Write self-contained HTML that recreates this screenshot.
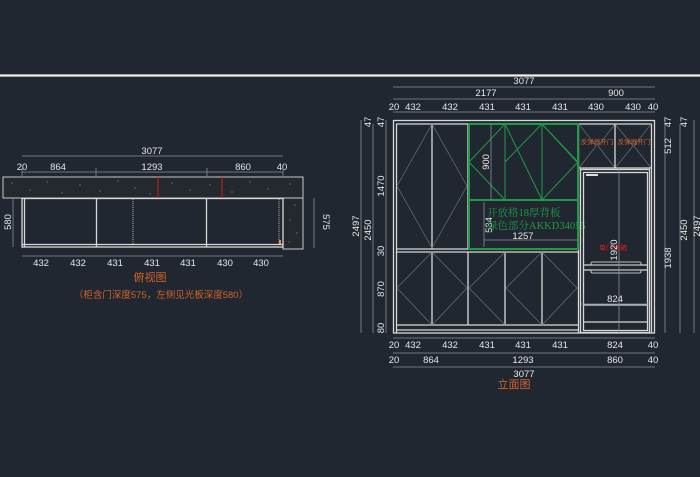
<!DOCTYPE html>
<html><head><meta charset="utf-8"><style>
html,body{margin:0;padding:0;background:#212730;}
svg{display:block;}
text{font-family:"Liberation Sans","Noto Sans CJK SC",sans-serif;font-size:9.5px;fill:#e6e6e6;}
.d{stroke:#8a8f96;stroke-width:0.8;fill:none;}
.w{stroke:#d8d8d8;stroke-width:1.3;fill:none;}
.g{stroke:#1f9a45;stroke-width:2;fill:none;}
.gt{stroke:#1f9a45;stroke-width:1;fill:none;}
.x{stroke:#6b7078;stroke-width:0.7;fill:none;}
</style></head><body>
<svg width="700" height="477" viewBox="0 0 700 477" xmlns="http://www.w3.org/2000/svg">
<rect width="700" height="477" fill="#212730"/>
<line x1="0" y1="75.5" x2="700" y2="75.5" stroke="#f0f0f0" stroke-width="2.2"/>

<!-- ============ PLAN VIEW ============ -->
<line class="d" x1="22" y1="156" x2="283" y2="156"/>
<text x="152" y="154" text-anchor="middle">3077</text>
<line class="d" x1="22" y1="172" x2="283" y2="172"/>
<g text-anchor="middle"><text x="22" y="170">20</text><text x="58" y="170">864</text><text x="152" y="170">1293</text><text x="243" y="170">860</text><text x="282" y="170">40</text></g>
<g class="d"><line x1="22" y1="168" x2="22" y2="176"/><line x1="96" y1="168" x2="96" y2="176"/><line x1="207" y1="168" x2="207" y2="176"/><line x1="283" y1="168" x2="283" y2="176"/></g>
<!-- band -->
<rect x="3" y="177" width="300" height="21" fill="#23292f" stroke="#c8c8c8" stroke-width="1"/>
<rect x="283" y="198" width="20" height="51" fill="#23292f" stroke="#c8c8c8" stroke-width="1"/>
<g fill="#8a8f96">
<circle cx="12" cy="183" r=".6"/><circle cx="30" cy="190" r=".6"/><circle cx="47" cy="182" r=".6"/><circle cx="62" cy="193" r=".6"/><circle cx="80" cy="185" r=".6"/><circle cx="100" cy="191" r=".6"/><circle cx="118" cy="181" r=".6"/><circle cx="135" cy="188" r=".6"/><circle cx="150" cy="194" r=".6"/><circle cx="172" cy="183" r=".6"/><circle cx="190" cy="190" r=".6"/><circle cx="210" cy="185" r=".6"/><circle cx="232" cy="192" r=".6"/><circle cx="250" cy="182" r=".6"/><circle cx="268" cy="189" r=".6"/><circle cx="290" cy="184" r=".6"/><circle cx="295" cy="205" r=".6"/><circle cx="290" cy="220" r=".6"/><circle cx="297" cy="233" r=".6"/><circle cx="289" cy="242" r=".6"/>
</g>
<line x1="158" y1="177" x2="158" y2="198" stroke="#b02020" stroke-width="1.2"/>
<line x1="222" y1="177" x2="222" y2="198" stroke="#b02020" stroke-width="1.2"/>
<!-- body -->
<rect x="22" y="198.5" width="261" height="48.5" class="w"/>
<line class="w" x1="24.5" y1="199" x2="24.5" y2="247"/>
<line class="w" x1="22" y1="244.5" x2="283" y2="244.5"/>
<line class="w" x1="96.5" y1="199" x2="96.5" y2="247"/>
<line class="w" x1="206.5" y1="199" x2="206.5" y2="247"/>
<line x1="133" y1="199" x2="133" y2="245" stroke="#999" stroke-width="1.2" stroke-dasharray="1,1"/>
<line x1="279" y1="199" x2="279" y2="245" stroke="#999" stroke-width="1.2" stroke-dasharray="1,1"/>
<rect x="279" y="240" width="2" height="4" fill="#e89050"/>
<line class="d" x1="13" y1="198" x2="13" y2="247"/>
<text transform="translate(11,222) rotate(-90)" text-anchor="middle">580</text>
<line class="d" x1="314" y1="198" x2="314" y2="248"/>
<text transform="translate(323,222) rotate(90)" text-anchor="middle">575</text>
<line class="d" x1="22" y1="256" x2="283" y2="256"/>
<g text-anchor="middle"><text x="41" y="266">432</text><text x="78" y="266">432</text><text x="115" y="266">431</text><text x="152" y="266">431</text><text x="188" y="266">431</text><text x="225" y="266">430</text><text x="261" y="266">430</text></g>
<text x="150" y="281" text-anchor="middle" style="fill:#d2632a;font-size:11px">俯视图</text>
<text x="161" y="298" text-anchor="middle" style="fill:#d2632a;font-size:9.5px">（柜含门深度575，左侧见光板深度580）</text>

<!-- ============ ELEVATION ============ -->
<line class="d" x1="393" y1="87" x2="655" y2="87"/>
<text x="524" y="84" text-anchor="middle">3077</text>
<line class="d" x1="393" y1="99" x2="655" y2="99"/>
<text x="486" y="96" text-anchor="middle">2177</text><text x="616" y="96" text-anchor="middle">900</text>
<line class="d" x1="393" y1="112" x2="655" y2="112"/>
<g text-anchor="middle"><text x="394" y="110">20</text><text x="413" y="110">432</text><text x="450" y="110">432</text><text x="487" y="110">431</text><text x="523" y="110">431</text><text x="560" y="110">431</text><text x="596" y="110">430</text><text x="633" y="110">430</text><text x="653" y="110">40</text></g>
<!-- outer -->
<rect x="393.5" y="120.5" width="261" height="212.5" class="w"/>
<line class="w" x1="396.5" y1="124" x2="396.5" y2="333"/>
<line class="w" x1="651.5" y1="124" x2="651.5" y2="333"/>
<line class="w" x1="396" y1="124" x2="652" y2="124"/>
<line class="w" x1="396" y1="249" x2="578" y2="249"/>
<line class="w" x1="396" y1="252" x2="578" y2="252"/>
<line class="w" x1="396" y1="325" x2="578" y2="325"/>
<line class="w" x1="396" y1="330" x2="578" y2="330"/>
<line class="w" x1="432" y1="124" x2="432" y2="249"/>
<line class="w" x1="468" y1="124" x2="468" y2="249"/>
<line class="w" x1="578.5" y1="124" x2="578.5" y2="333"/>
<g class="w"><line x1="432" y1="252" x2="432" y2="325"/><line x1="468" y1="252" x2="468" y2="325"/><line x1="505" y1="252" x2="505" y2="325"/><line x1="542" y1="252" x2="542" y2="325"/></g>
<!-- door diagonals -->
<g class="x">
<polyline points="432,124 397,186 432,248"/><polyline points="432,124 467,186 432,248"/>
<polyline points="432,252 397,288 432,325"/><polyline points="432,252 467,288 432,325"/>
<polyline points="505,252 469,288 505,325"/><polyline points="542,252 506,288 542,325"/><polyline points="542,252 577,288 542,325"/>
<polyline points="579,124 596,146 579,168"/><polyline points="615,124 598,146 615,168"/>
<polyline points="615,124 633,146 615,168"/><polyline points="651,124 634,146 651,168"/>
</g>
<!-- green -->
<rect x="469" y="124" width="109" height="125" class="g"/>
<line class="g" x1="469" y1="200" x2="578" y2="200"/>
<g class="gt">
<line x1="505" y1="124" x2="505" y2="200"/><line x1="542" y1="124" x2="542" y2="200"/>
<polyline points="505,124 469,162 505,200"/><polyline points="505,124 542,200"/><polyline points="542,124 505,162"/>
<polyline points="542,124 578,162 542,200"/><polyline points="542,124 577,162"/>
</g>
<line class="d" x1="491" y1="124" x2="491" y2="200"/>
<text transform="translate(489,162) rotate(-90)" text-anchor="middle">900</text>
<line class="d" x1="484" y1="202" x2="484" y2="247"/>
<text transform="translate(492,225) rotate(-90)" text-anchor="middle">534</text>
<text x="487" y="216" style="fill:#1f9a45;font-size:10.5px;font-family:'Liberation Serif','Noto Serif CJK SC',serif">开放格18厚背板</text>
<text x="487" y="229" style="fill:#1f9a45;font-size:10.5px;font-family:'Liberation Serif','Noto Serif CJK SC',serif">绿色部分AKKD34055</text>
<line class="d" x1="484" y1="240" x2="578" y2="240"/>
<text x="523" y="239" text-anchor="middle">1257</text>
<!-- right upper -->
<line class="w" x1="615" y1="124" x2="615" y2="168"/>
<line class="w" x1="579" y1="168" x2="651" y2="168"/>
<text x="597" y="144" text-anchor="middle" style="fill:#d2632a;font-size:6.5px">反弹器开门</text>
<text x="634" y="144" text-anchor="middle" style="fill:#d2632a;font-size:6.5px">反弹器开门</text>
<!-- fridge -->
<rect x="580.5" y="169.5" width="69" height="163" class="w"/>
<rect x="583.5" y="172.5" width="64" height="158" class="w" stroke-width="0.9"/>
<rect x="586" y="174" width="12" height="2" fill="#ddd"/>
<line class="w" x1="583" y1="265" x2="648" y2="265"/>
<line class="w" x1="583" y1="270" x2="648" y2="270"/>
<rect x="591" y="262" width="50" height="3" rx="1.5" fill="none" stroke="#bbb"/>
<rect x="591" y="270" width="50" height="3" rx="1.5" fill="none" stroke="#bbb"/>
<line class="w" x1="583" y1="305" x2="648" y2="305"/>
<line class="w" x1="583" y1="322" x2="648" y2="322"/>
<line class="d" x1="619" y1="169" x2="619" y2="333"/>
<text x="613" y="250" text-anchor="middle" style="fill:#d42020;font-size:7px">单门冰箱</text>
<text transform="translate(617,250) rotate(-90)" text-anchor="middle">1920</text>
<line class="d" x1="581" y1="304" x2="649" y2="304"/>
<text x="615" y="302" text-anchor="middle">824</text>
<!-- left dims -->
<g class="d"><line x1="361" y1="120" x2="361" y2="333"/><line x1="373" y1="124" x2="373" y2="333"/><line x1="386" y1="120" x2="386" y2="333"/></g>
<text transform="translate(359,226) rotate(-90)" text-anchor="middle">2497</text>
<text transform="translate(371,230) rotate(-90)" text-anchor="middle">2450</text>
<g>
<text transform="translate(371,122) rotate(-90)" text-anchor="middle">47</text>
<text transform="translate(384,122) rotate(-90)" text-anchor="middle">47</text>
<text transform="translate(384,186) rotate(-90)" text-anchor="middle">1470</text>
<text transform="translate(384,251) rotate(-90)" text-anchor="middle">30</text>
<text transform="translate(384,289) rotate(-90)" text-anchor="middle">870</text>
<text transform="translate(384,328) rotate(-90)" text-anchor="middle">80</text>
</g>
<!-- right dims -->
<g class="d"><line x1="665" y1="120" x2="665" y2="333"/><line x1="680" y1="124" x2="680" y2="333"/><line x1="694" y1="120" x2="694" y2="333"/></g>
<text transform="translate(671,122) rotate(-90)" text-anchor="middle">47</text>
<text transform="translate(687,122) rotate(-90)" text-anchor="middle">47</text>
<text transform="translate(671,146) rotate(-90)" text-anchor="middle">512</text>
<text transform="translate(671,258) rotate(-90)" text-anchor="middle">1938</text>
<text transform="translate(687,230) rotate(-90)" text-anchor="middle">2450</text>
<text transform="translate(700,226) rotate(-90)" text-anchor="middle">2497</text>
<!-- bottom dims -->
<line class="d" x1="393" y1="338" x2="655" y2="338"/>
<g text-anchor="middle"><text x="394" y="348">20</text><text x="413" y="348">432</text><text x="450" y="348">432</text><text x="487" y="348">431</text><text x="523" y="348">431</text><text x="560" y="348">431</text><text x="615" y="348">824</text><text x="653" y="348">40</text></g>
<line class="d" x1="393" y1="353" x2="655" y2="353"/>
<g text-anchor="middle"><text x="394" y="363">20</text><text x="431" y="363">864</text><text x="523" y="363">1293</text><text x="615" y="363">860</text><text x="653" y="363">40</text></g>
<line class="d" x1="393" y1="367" x2="655" y2="367"/>
<text x="524" y="377" text-anchor="middle">3077</text>
<text x="514" y="388" text-anchor="middle" style="fill:#d2632a;font-size:11px">立面图</text>
</svg>
</body></html>
